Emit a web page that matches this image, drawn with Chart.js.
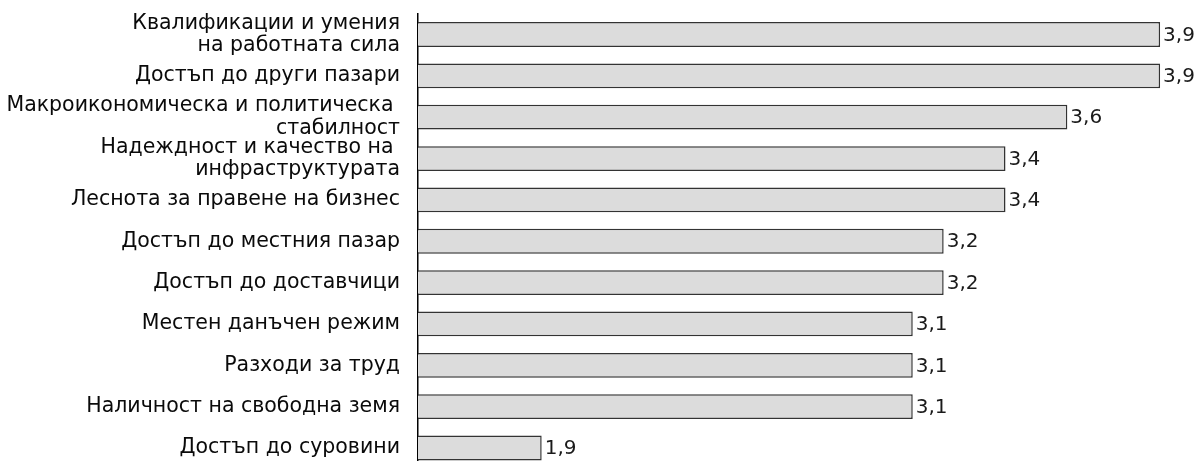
<!DOCTYPE html>
<html>
<head>
<meta charset="utf-8">
<script src="https://cdn.jsdelivr.net/npm/chart.js@4"></script>
<style>
  html, body { margin: 0; padding: 0; background: #fff; overflow: hidden; }
  #wrap { width: 1200px; height: 461px; overflow: hidden; }
</style>
</head>
<body>
<div id="wrap"><canvas id="myChart" width="1200" height="470"></canvas></div>
<script>
// categories, top to bottom
const categories = [
  ['Квалификации и умения', 'на работната сила'],
  'Достъп до други пазари',
  ['Макроикономическа и политическа ', 'стабилност'],
  ['Надеждност и качество на ', 'инфраструктурата'],
  'Леснота за правене на бизнес',
  'Достъп до местния пазар',
  'Достъп до доставчици',
  'Местен данъчен режим',
  'Разходи за труд',
  'Наличност на свободна земя',
  'Достъп до суровини'
];
const values = [3.9, 3.9, 3.6, 3.4, 3.4, 3.2, 3.2, 3.1, 3.1, 3.1, 1.9];

const fontFamily = '"DejaVu Sans", "Liberation Sans", sans-serif';

// writes the value (with decimal comma) just right of each bar
const valueLabels = {
  id: 'valueLabels',
  afterDatasetsDraw(chart) {
    const ctx = chart.ctx;
    const meta = chart.getDatasetMeta(0);
    ctx.save();
    ctx.font = '20px ' + fontFamily;
    ctx.fillStyle = '#1a1a1a';
    ctx.textBaseline = 'middle';
    ctx.textAlign = 'left';
    meta.data.forEach((bar, i) => {
      ctx.fillText(values[i].toFixed(1).replace('.', ','), bar.x + 3, bar.y + 1);
    });
    ctx.restore();
  }
};

const ctx = document.getElementById('myChart').getContext('2d');
const chart = new Chart(ctx, {
  type: 'bar',
  data: {
    labels: categories,
    datasets: [{
      data: values,
      backgroundColor: '#dcdcdc',
      borderColor: '#333',
      borderWidth: 1.5,
      borderSkipped: false,
      barPercentage: 0.6,
      categoryPercentage: 1
    }]
  },
  options: {
    indexAxis: 'y',
    responsive: false,
    maintainAspectRatio: false,
    animation: false,
    devicePixelRatio: 1,
    layout: { padding: { top: 13.8, bottom: 1.3, left: 0, right: 0 } },
    plugins: {
      legend: { display: false },
      tooltip: { enabled: false }
    },
    scales: {
      x: {
        type: 'linear',
        min: 1.5,
        max: 4.029,
        display: false
      },
      y: {
        afterFit: (scale) => {
          scale.width = 418;
          scale.paddingTop = 0;
          scale.paddingBottom = 0;
        },
        grid: { display: false, drawTicks: false },
        border: { display: true, color: '#000', width: 1.5 },
        ticks: {
          autoSkip: false,
          color: '#0a0a0a',
          padding: 18,
          font: { family: fontFamily, size: 20.5, lineHeight: 1.08 }
        }
      }
    }
  },
  plugins: [valueLabels]
});
</script>
</body>
</html>
